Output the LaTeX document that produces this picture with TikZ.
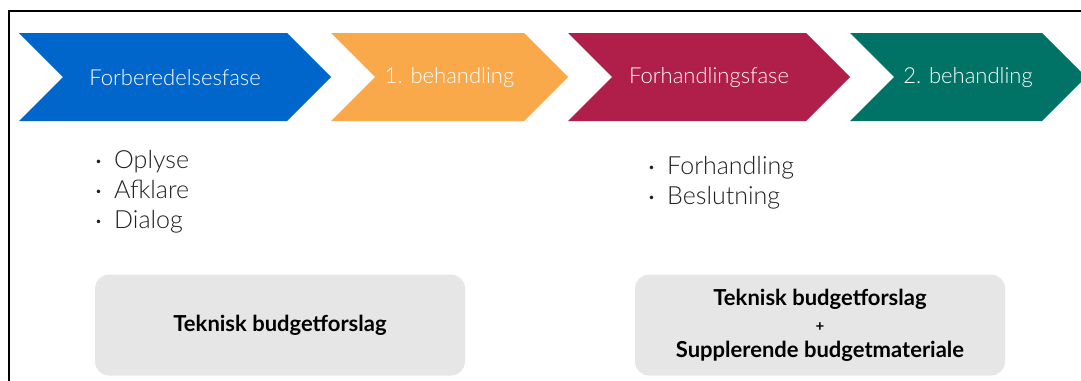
\documentclass[tikz,border=0pt]{standalone}
\usepackage{fontspec}
\setmainfont{Lato}
\newfontfamily\tynd{Lato Light}
\usetikzlibrary{positioning}
\definecolor{fasblue}{HTML}{0066CC}
\definecolor{fasorange}{HTML}{F9A84A}
\definecolor{fasred}{HTML}{B01E4A}
\definecolor{fasteal}{HTML}{007366}
\definecolor{boxgray}{HTML}{E6E6E6}
\newcommand{\pkt}{\makebox[20pt][l]{\hspace{1pt}\raisebox{3pt}{\fontsize{12}{12}\selectfont\textbullet}}}

\begin{document}
\begin{tikzpicture}[x=1pt,y=-1pt,
    fase/.style={text=white,font=\tynd\fontsize{22}{24}\selectfont},
    punkt/.style={anchor=west,inner sep=0pt,text height=18pt,text depth=5pt,
      text=black!88,font=\tynd\fontsize{25}{27}\selectfont},
    budget/.style={fill=boxgray,rounded corners=14pt,minimum width=370pt,
      minimum height=101pt,align=center,font=\bfseries\fontsize{22}{26}\selectfont}]
  \useasboundingbox (0,0) rectangle (1081,380);
  % ramme
  \draw[line width=2pt] (9,381) -- (9,11) -- (1082,11);
  % faser
  \foreach \xa/\xb/\col/\nm/\txt in {19/331/fasblue/forb/Forberedelsesfase,
      331/568/fasorange/beh1/1. behandling, 568/850/fasred/forh/Forhandlingsfase,
      850/1086/fasteal/beh2/2. behandling}{
    \fill[\col] (\xa,33) -- (\xb-44,33) -- (\xb,77) -- (\xb-44,121) -- (\xa,121) -- (\xa+44,77) -- cycle;
    \node[fase] (\nm) at ({(\xa+\xb)/2},78) {\txt};
  }
  \node[punkt] (oplyse) at (94,162) {\pkt Oplyse};
  \node[punkt] (afklare) at (94,192) {\pkt Afklare};
  \node[punkt] (dialog) at (94,222) {\pkt Dialog};
  \node[punkt] (forhandling) at (647,168) {\pkt Forhandling};
  \node[punkt] (beslutning) at (647,198) {\pkt Beslutning};
  \node[budget] (tekn) at (280,325) {Teknisk budgetforslag};
  \node[budget] (suppl) at (820,325) {Teknisk budgetforslag\\{\fontsize{15}{15}\selectfont+}\\Supplerende budgetmateriale};
\end{tikzpicture}
\end{document}
